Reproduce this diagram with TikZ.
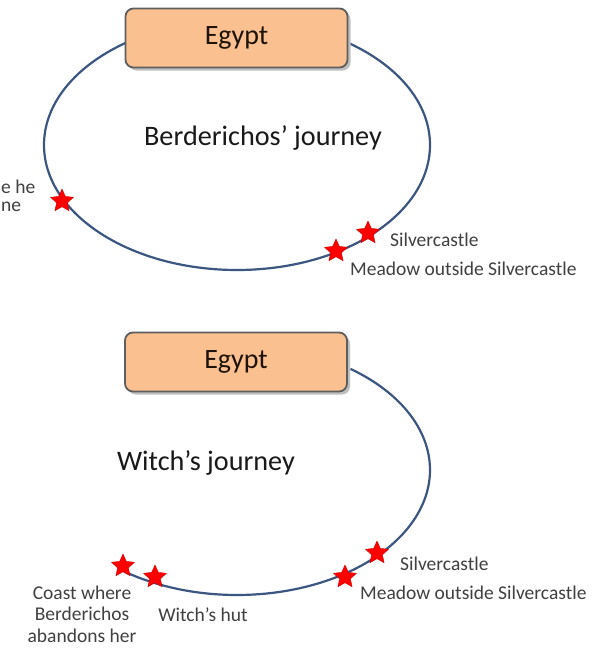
\documentclass[tikz,border=0pt]{standalone}
\usepackage{fontspec}
\setmainfont{Carlito}
\usetikzlibrary{shapes.geometric}
\definecolor{routeblue}{HTML}{3B5680}
\definecolor{boxfill}{HTML}{FAC090}
\definecolor{boxline}{HTML}{5E5E5E}
\definecolor{labelgray}{HTML}{404040}
\tikzset{
  route/.style={draw=routeblue, line width=2.2pt},
  placebox/.style={draw=boxline, line width=1.8pt, fill=boxfill, rounded corners=8pt,
    minimum width=222pt, minimum height=59pt, inner sep=0pt,
    font=\fontsize{28}{30}\selectfont, text=black!85!brown},
  boxshadow/.style={fill=black!25, rounded corners=8pt, minimum width=222pt,
    minimum height=59pt, inner sep=0pt},
  title/.style={font=\fontsize{28.2}{32}\selectfont, text=black!90},
  place/.style={star, star points=5, star point ratio=2.1, fill=red, draw=red!80!black,
    line width=0.4pt, minimum size=24pt, inner sep=0pt},
  lbl/.style={font=\fontsize{19.5}{22}\selectfont, text=labelgray, inner sep=0pt},
}
\begin{document}
\begin{tikzpicture}[x=1pt,y=-1pt]
\useasboundingbox (0,0) rectangle (599,656);
\clip (0,0) rectangle (599,656);
\fill[white] (0,0) rectangle (599,656);

% ---- Berderichos' journey: a closed loop ----
\draw[route] (237,145) ellipse [x radius=193, y radius=125];
\node[boxshadow] at (239.5,41) {};
\node[placebox] (egyptA) at (236.5,38) {Egypt};
\node[title] (titleA) at (263,138) {Berderichos’ journey};

\node[place] (coastA) at (62,201) {};
\node[place] (castleA) at (368,233) {};
\node[place] (meadowA) at (336,251) {};

\node[lbl, anchor=west] (coastAlbl1) at (1,187) {e he};
\node[lbl, anchor=west] (coastAlbl2) at (1,207) {ne};
\node[lbl, anchor=west] (castleAlbl) at (390,240) {Silvercastle};
\node[lbl, anchor=west] (meadowAlbl) at (350,269) {Meadow outside Silvercastle};

% ---- Witch's journey: an open arc from Egypt round to the coast ----
\draw[route] plot[domain=-54:126.6, samples=120, smooth]
  ({237+193*cos(\x)}, {470+125*sin(\x)});
\node[boxshadow] at (239,365) {};
\node[placebox] (egyptB) at (236,362) {Egypt};
\node[title] (titleB) at (206,463) {Witch’s journey};

\node[place] (castleB) at (377,553) {};
\node[place] (meadowB) at (345,577) {};
\node[place] (coastB) at (123,566) {};
\node[place] (hutB) at (155,577) {};

\node[lbl, anchor=west] (castleBlbl) at (400,564) {Silvercastle};
\node[lbl, anchor=west] (meadowBlbl) at (360,593) {Meadow outside Silvercastle};
\node[lbl, align=center, font=\fontsize{19.5}{21.5}\selectfont] (coastBlbl) at (82,614)
  {Coast where\\Berderichos\\abandons her};
\node[lbl] (hutBlbl) at (203,615) {Witch’s hut};
\end{tikzpicture}
\end{document}
